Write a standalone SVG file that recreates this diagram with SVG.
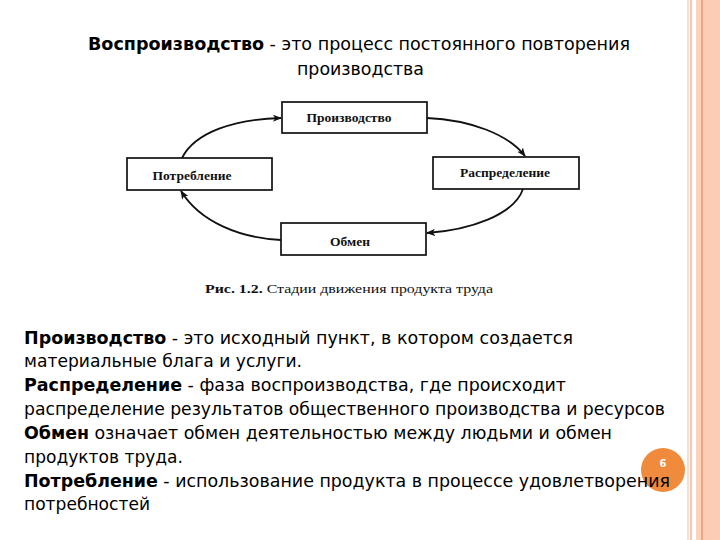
<svg xmlns="http://www.w3.org/2000/svg" width="720" height="540" viewBox="0 0 720 540">
<style>
.t{font-family:"DejaVu Sans","Liberation Sans",sans-serif;font-size:18.5px;fill:#000}
.b{font-weight:bold}
.box{fill:#fff;stroke:#111;stroke-width:1.7}
.lbl{font-family:"Liberation Serif","DejaVu Serif",serif;font-size:13.5px;font-weight:bold;fill:#111;text-anchor:middle}
.cap{font-family:"Liberation Serif","DejaVu Serif",serif;font-size:13.5px;fill:#111}
.arr{fill:none;stroke:#111;stroke-width:1.8;marker-end:url(#ah)}
</style>
<defs>
<marker id="ah" viewBox="0 0 10 10" refX="9" refY="5" markerWidth="9" markerHeight="9" markerUnits="userSpaceOnUse" orient="auto">
<path d="M0,1 L10,5 L0,9 L2.5,5 Z" fill="#111"/>
</marker>
</defs>
<rect width="720" height="540" fill="#fff"/>
<g id="border">
<rect x="687" y="0" width="2" height="540" fill="#F9DCCB"/>
<rect x="690" y="0" width="2" height="540" fill="#F8C7AE"/>
<rect x="696" y="0" width="5" height="540" fill="#FCD3BF"/>
<rect x="701" y="0" width="2" height="540" fill="#F3A77F"/>
<rect x="703" y="0" width="17" height="540" fill="#FCCCB5"/>
</g>
<g id="title">
<text class="t" x="88" y="50" textLength="542" lengthAdjust="spacingAndGlyphs"><tspan class="b">Воспроизводство</tspan> - это процесс постоянного повторения</text>
<text class="t" x="297" y="75" textLength="127" lengthAdjust="spacingAndGlyphs">производства</text>
</g>
<g id="connectors">
<path class="arr" d="M182,158 C195,132 235,119 281,118"/>
<path class="arr" d="M427,118 C470,120 508,134 525,156"/>
<path class="arr" d="M523,189 C514,215 470,230 427,233"/>
<path class="arr" d="M281,240 C240,238 200,222 181,191"/>
</g>
<g id="n-proizvodstvo">
<rect class="box" x="282" y="102" width="145" height="31"/>
<text class="lbl" x="349" y="122">Производство</text>
</g>
<g id="n-potreblenie">
<rect class="box" x="127" y="158" width="145" height="32"/>
<text class="lbl" x="192" y="180">Потребление</text>
</g>
<g id="n-raspredelenie">
<rect class="box" x="433" y="157" width="146" height="32"/>
<text class="lbl" x="505" y="177">Распределение</text>
</g>
<g id="n-obmen">
<rect class="box" x="281" y="223" width="145" height="32"/>
<text class="lbl" x="350" y="246">Обмен</text>
</g>
<g id="caption">
<text class="cap" x="205" y="293" textLength="288" lengthAdjust="spacingAndGlyphs"><tspan font-weight="bold">Рис. 1.2.</tspan> Стадии движения продукта труда</text>
</g>
<g id="body">
<text class="t" x="24" y="344" textLength="549" lengthAdjust="spacingAndGlyphs"><tspan class="b">Производство</tspan> - это исходный пункт, в котором создается</text>
<text class="t" x="24" y="367" textLength="278" lengthAdjust="spacingAndGlyphs">материальные блага и услуги.</text>
<text class="t" x="24" y="391" textLength="542" lengthAdjust="spacingAndGlyphs"><tspan class="b">Распределение</tspan> - фаза воспроизводства, где происходит</text>
<text class="t" x="24" y="415" textLength="641" lengthAdjust="spacingAndGlyphs">распределение результатов общественного производства и ресурсов</text>
<text class="t" x="24" y="439" textLength="588" lengthAdjust="spacingAndGlyphs"><tspan class="b">Обмен</tspan> означает обмен деятельностью между людьми и обмен</text>
<text class="t" x="24" y="463" textLength="159" lengthAdjust="spacingAndGlyphs">продуктов труда.</text>
</g>
<g id="page-num">
<circle cx="663" cy="470" r="22" fill="#F08A3C"/>
<text x="663" y="467" font-family="'DejaVu Sans',sans-serif" font-size="10" font-weight="bold" fill="#fff" text-anchor="middle">6</text>
</g>
<g id="body2">
<text class="t" x="24" y="487" textLength="646" lengthAdjust="spacingAndGlyphs"><tspan class="b">Потребление</tspan> - использование продукта в процессе удовлетворения</text>
<text class="t" x="24" y="510" textLength="126" lengthAdjust="spacingAndGlyphs">потребностей</text>
</g>
</svg>
